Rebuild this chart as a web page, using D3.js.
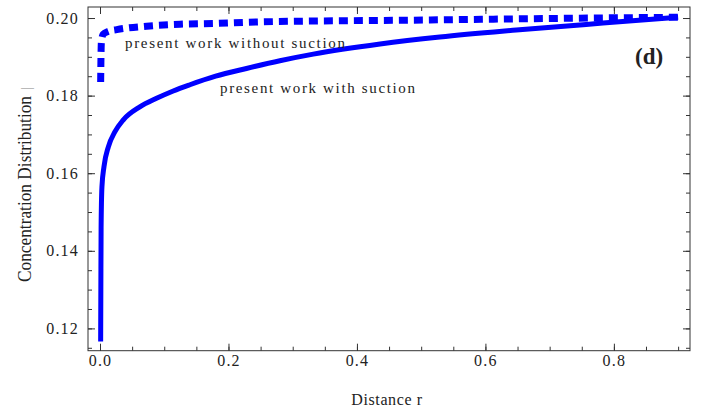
<!DOCTYPE html>
<html>
<head>
<meta charset="utf-8">
<script src="https://cdn.jsdelivr.net/npm/d3@7"></script>
<style>
  html, body { margin: 0; padding: 0; background: #fff; }
  svg { display: block; }
  text { font-family: "Liberation Serif", "Times New Roman", serif; fill: #222; }
</style>
</head>
<body>
<svg id="chart" width="704" height="415"></svg>
<script>
// ---- data ----
const withSuctionR = [0.0010, 0.0013, 0.0017, 0.0030, 0.0062, 0.013, 0.0233, 0.036, 0.062, 0.088, 0.114, 0.14, 0.18, 0.228, 0.28, 0.332, 0.436, 0.529, 0.648, 0.783, 0.90];
const withSuctionC = [0.1166, 0.1300, 0.1460, 0.1565, 0.1617, 0.1668, 0.1707, 0.1737, 0.1771, 0.1793, 0.1812, 0.1828, 0.1850, 0.1870, 0.1890, 0.1907, 0.1933, 0.1951, 0.1969, 0.1987, 0.2002];
const withoutSuctionR = [0.0010, 0.0015, 0.0022, 0.0050, 0.012, 0.026, 0.0726, 0.1245, 0.176, 0.249, 0.514, 0.71, 0.90];
const withoutSuctionC = [0.1835, 0.1900, 0.1940, 0.1958, 0.1965, 0.1970, 0.1979, 0.1984, 0.1986, 0.1990, 0.1995, 0.1999, 0.2002];
const xMajorTicks = [0.0, 0.2, 0.4, 0.6, 0.8];
const xTickLabels = ["0.0", "0.2", "0.4", "0.6", "0.8"];
const yMajorTicks = [0.12, 0.14, 0.16, 0.18, 0.20];
const yTickLabels = ["0.12", "0.14", "0.16", "0.18", "0.20"];
const xMinorTicks = d3.range(0, 19).map(i => +(i * 0.05).toFixed(2)).filter(v => v <= 0.9);
const yMinorTicks = d3.range(0, 19).map(i => +(0.115 + i * 0.005).toFixed(3)).filter(v => v <= 0.2);

const svg = d3.select("#chart");
const L = 88, R = 690, T = 7, B = 350.7;
const x = d3.scaleLinear().domain([-0.0187, 0.9185]).range([L, R]);
const y = d3.scaleLinear().domain([0.11425, 0.20284]).range([B, T]);

const axisColor = "#333";
const serif = '"Liberation Serif", "Times New Roman", serif';

function styleAxis(g) {
  g.attr("font-family", serif).attr("font-size", 16);
  g.select(".domain").remove();
  g.selectAll(".tick line").attr("stroke", axisColor).attr("stroke-width", 1);
  g.selectAll(".tick text").attr("fill", "#222")
    .style("font-family", serif)
    .style("font-size", "16px").style("letter-spacing", "1.2px");
}

// minor ticks (no labels)
svg.append("g").attr("transform", `translate(0,${B})`)
  .call(d3.axisBottom(x).tickValues(xMinorTicks).tickSize(-4).tickFormat(""))
  .call(styleAxis);
svg.append("g").attr("transform", `translate(0,${T})`)
  .call(d3.axisTop(x).tickValues(xMinorTicks).tickSize(-4).tickFormat(""))
  .call(styleAxis);
svg.append("g").attr("transform", `translate(${L},0)`)
  .call(d3.axisLeft(y).tickValues(yMinorTicks).tickSize(-4).tickFormat(""))
  .call(styleAxis);
svg.append("g").attr("transform", `translate(${R},0)`)
  .call(d3.axisRight(y).tickValues(yMinorTicks).tickSize(-4).tickFormat(""))
  .call(styleAxis);

// major ticks
svg.append("g").attr("transform", `translate(0,${B})`)
  .call(d3.axisBottom(x).tickValues(xMajorTicks).tickSize(-7).tickPadding(4)
    .tickFormat((d, i) => xTickLabels[i]))
  .call(styleAxis);
svg.append("g").attr("transform", `translate(0,${T})`)
  .call(d3.axisTop(x).tickValues(xMajorTicks).tickSize(-7).tickFormat(""))
  .call(styleAxis);
svg.append("g").attr("transform", `translate(${L},0)`)
  .call(d3.axisLeft(y).tickValues(yMajorTicks).tickSize(-7).tickPadding(9)
    .tickFormat((d, i) => yTickLabels[i]))
  .call(styleAxis);
svg.append("g").attr("transform", `translate(${R},0)`)
  .call(d3.axisRight(y).tickValues(yMajorTicks).tickSize(-7).tickFormat(""))
  .call(styleAxis);

// frame
svg.append("rect").attr("x", L).attr("y", T).attr("width", R - L).attr("height", B - T)
  .attr("fill", "none").attr("stroke", axisColor).attr("stroke-width", 1);

// curves
const line = d3.line().x(d => x(d[0])).y(d => y(d[1])).curve(d3.curveMonotoneX);
const solidData = withSuctionR.map((r, i) => [r, withSuctionC[i]]);
const dashData = withoutSuctionR.map((r, i) => [r, withoutSuctionC[i]]);

svg.append("path").datum(solidData).attr("d", line)
  .attr("fill", "none").attr("stroke", "#0000ff").attr("stroke-width", 5)
  .attr("stroke-linejoin", "round");
svg.append("path").datum(dashData).attr("d", line)
  .attr("fill", "none").attr("stroke", "#0000ff").attr("stroke-width", 7)
  .attr("stroke-dasharray", "9,6").attr("stroke-linejoin", "round");

// annotations
svg.append("text").attr("x", 125).attr("y", 48)
  .style("font-size", "15px").attr("textLength", 220).attr("lengthAdjust", "spacing")
  .text("present work without suction");
svg.append("text").attr("x", 220).attr("y", 93)
  .style("font-size", "15px").attr("textLength", 195).attr("lengthAdjust", "spacing")
  .text("present work with suction");
svg.append("text").attr("x", 635).attr("y", 64)
  .style("font-size", "23px").style("font-weight", "bold").attr("fill", "#111")
  .text("(d)");

// axis titles
svg.append("text").attr("x", 387).attr("y", 405).attr("text-anchor", "middle")
  .style("font-size", "16px").style("letter-spacing", "0.6px")
  .text("Distance r");
const yt = svg.append("text").attr("transform", "translate(31,282) rotate(-90)")
  .style("font-size", "19px");
yt.append("tspan").attr("textLength", 186).attr("lengthAdjust", "spacingAndGlyphs")
  .text("Concentration Distribution");
yt.append("tspan").attr("dx", 6).attr("fill", "#aaa").style("font-size", "15px").text("|");
</script>
</body>
</html>
